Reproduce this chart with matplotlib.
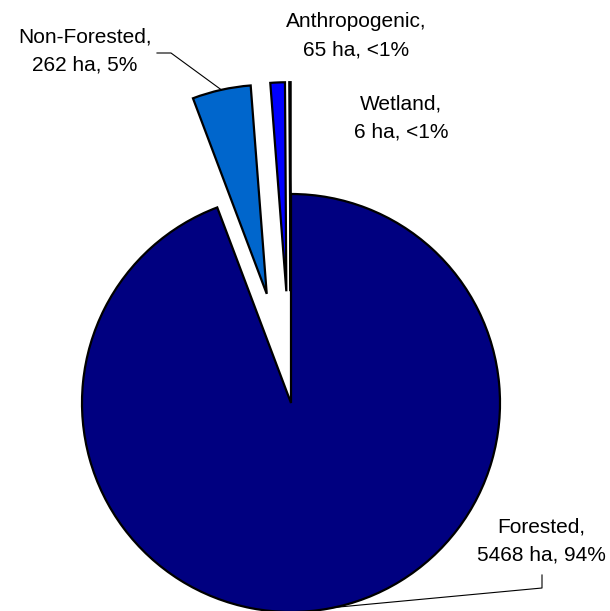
"""Land cover breakdown pie (area in hectares)."""

import numpy as np
import matplotlib

matplotlib.use("Agg")
import matplotlib.pyplot as plt

plt.rcParams["font.family"] = ["Liberation Sans", "DejaVu Sans"]

# drawn counter-clockwise starting at 12 o'clock
CATEGORIES = ["Wetland", "Anthropogenic", "Non-Forested", "Forested"]
AREA_HA = [6, 65, 262, 5468]
PCT_LABELS = ["<1%", "<1%", "5%", "94%"]
COLORS = ["#000080", "#0000FF", "#0066CC", "#000080"]
EXPLODE = [0.535, 0.535, 0.535, 0.0]


def arc_point(wedge, deg):
    cx, cy = wedge.center
    r = wedge.r
    t = np.deg2rad(deg)
    return cx + r * np.cos(t), cy + r * np.sin(t)


def main() -> None:
    fig = plt.figure(figsize=(6.10, 6.11), dpi=100)
    ax = fig.add_axes([0, 0, 1, 1])

    wedges, _ = ax.pie(
        AREA_HA,
        colors=COLORS,
        explode=EXPLODE,
        startangle=90,
        counterclock=True,
        wedgeprops=dict(edgecolor="black", linewidth=1.6),
    )

    ax.set_aspect("equal")
    ax.set_xlim(-291 / 209, 319 / 209)
    ax.set_ylim(-208 / 209, 403 / 209)
    ax.axis("off")

    texts = {
        name: f"{name},\n{v} ha, {p}"
        for name, v, p in zip(CATEGORIES, AREA_HA, PCT_LABELS)
    }
    tkw = dict(fontsize=15, ha="center", va="center", linespacing=1.65, color="black")

    ax.text(-206 / 209, 352 / 209, texts["Non-Forested"], **tkw)
    ax.text(65 / 209, 367 / 209, texts["Anthropogenic"], **tkw)
    ax.text(110 / 209, 285 / 209, texts["Wetland"], **tkw)
    ax.text(250 / 209, -138 / 209, texts["Forested"], **tkw)

    # leader for Non-Forested: elbow to middle of its outer arc
    nf = wedges[CATEGORIES.index("Non-Forested")]
    px, py = arc_point(nf, (nf.theta1 + nf.theta2) / 2)
    ax.plot([-134 / 209, -120 / 209, px], [350 / 209, 350 / 209, py],
            color="black", linewidth=0.8)

    # leader for Forested: from under the label down to the lower arc
    fo = wedges[CATEGORIES.index("Forested")]
    qx, qy = arc_point(fo, 282)
    ax.plot([251 / 209, 251 / 209, qx], [-172 / 209, -185 / 209, qy],
            color="black", linewidth=0.8)

    fig.savefig("out.png", dpi=100)
    plt.close(fig)


if __name__ == "__main__":
    main()
